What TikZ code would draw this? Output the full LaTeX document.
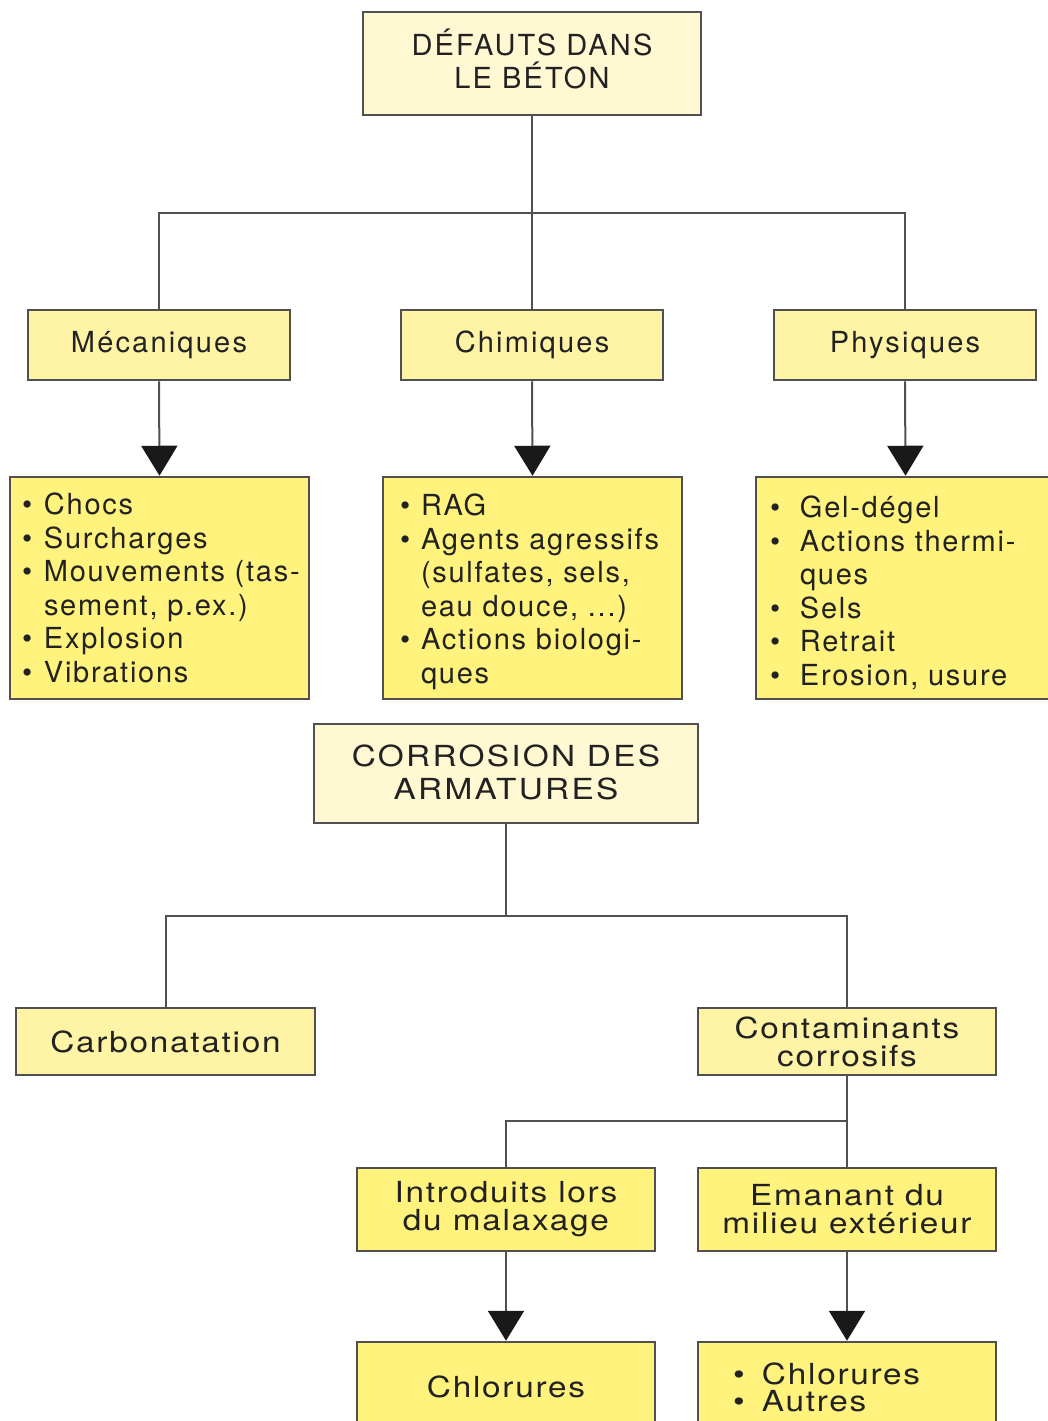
\documentclass[tikz,border=0pt]{standalone}
\usepackage{fontspec}
\setmainfont{TeX Gyre Heros}[LetterSpace=6]
\newfontfamily\hdrfont{TeX Gyre Heros}[LetterSpace=7.5]
\newfontfamily\widefont{TeX Gyre Heros}[FakeStretch=1.15, LetterSpace=6]
\newfontfamily\widerfont{TeX Gyre Heros}[FakeStretch=1.15, LetterSpace=8]
\usetikzlibrary{arrows.meta}
\definecolor{pale}{HTML}{FFF8D2}
\definecolor{mid}{HTML}{FFF4A6}
\definecolor{deep}{HTML}{FFF27D}
\definecolor{edge}{HTML}{505050}
\definecolor{ink}{HTML}{222222}
\newcommand\blt[2][22pt]{\mbox{\makebox[#1][l]{•}#2}}
\newcommand\ind[1][22pt]{\hspace*{#1}}
\begin{document}
\begin{tikzpicture}[x=1pt,y=-1pt,
  box/.style={draw=edge, line width=2.5pt, inner sep=0pt, text=ink,
    font=\hdrfont\fontsize{29}{33.5}\selectfont, align=center, rectangle},
  topbox/.style={box, fill=pale},
  midbox/.style={box, fill=mid},
  deepbox/.style={box, fill=deep},
  listbox/.style={deepbox, minimum width=299pt, minimum height=222pt, align=left,
    font=\rmfamily\fontsize{29}{33.5}\selectfont},
  lowbox/.style={font=\widefont\fontsize{29}{28}\selectfont},
  conn/.style={draw=edge, line width=2pt},
  arr/.style={conn, -{Triangle[width=36pt,length=30pt,color=black!90]}}
]
\useasboundingbox (0,0) rectangle (1048,1421);
\fill[white] (0,0) rectangle (1048,1421);

\node[topbox, minimum width=338pt, minimum height=103pt] (top) at (532,63.5) {DÉFAUTS DANS\\LE BÉTON\rule[-10pt]{0pt}{10pt}};
\node[midbox, minimum width=262pt, minimum height=70pt] (mec) at (159,345) {Mécaniques};
\node[midbox, minimum width=262pt, minimum height=70pt] (chim) at (532,345) {Chimiques};
\node[midbox, minimum width=262pt, minimum height=70pt] (phys) at (905,345) {Physiques};

\node[listbox, text width=275pt] (mecl) at (159.5,588)
 {\blt{Chocs}\\\blt{Surcharges}\\\blt{Mouvements (tas-}\\\ind sement, p.ex.)\\\blt{Explosion}\\\blt{Vibrations}};
\node[listbox, text width=265pt] (chiml) at (532.5,588)
 {\rule{0pt}{29pt}\blt[21pt]{RAG}\\\blt[21pt]{Agents agressifs}\\\ind[21pt](sulfates, sels,\\\ind[21pt]eau douce, ...)\\\blt[21pt]{Actions biologi-}\\\ind[21pt]ques};
\node[listbox, text width=271pt] (physl) at (905.5,588)
 {\rule{0pt}{31pt}\blt[30pt]{Gel-dégel}\\\blt[30pt]{Actions thermi-}\\\ind[30pt]ques\\\blt[30pt]{Sels}\\\blt[30pt]{Retrait}\\\blt[30pt]{Erosion, usure}};

\node[topbox, minimum width=384pt, minimum height=99pt, font=\widerfont\fontsize{29}{33.5}\selectfont] (corr) at (506,773.5) {CORROSION DES\\ARMATURES\rule[-3pt]{0pt}{3pt}};
\node[midbox, lowbox, minimum width=299pt, minimum height=67pt] (carb) at (165.5,1041.5) {Carbonatation};
\node[midbox, lowbox, minimum width=298pt, minimum height=67pt] (cont) at (847,1041.5) {Contaminants\\corrosifs};
\node[deepbox, lowbox, minimum width=298pt, minimum height=83pt] (intro) at (506,1209.5) {Introduits lors\\du malaxage};
\node[deepbox, lowbox, minimum width=298pt, minimum height=83pt] (eman) at (847,1209.5) {Emanant du\\milieu extérieur};
\node[deepbox, lowbox, minimum width=298pt, minimum height=90pt] (chl1) at (506,1387) {Chlorures};
\node[deepbox, minimum width=298pt, minimum height=90pt, text width=228pt, align=left, font=\widefont\fontsize{29}{27}\selectfont] (chl2) at (847,1387)
 {\blt[29pt]{Chlorures}\\\blt[29pt]{Autres}};

\coordinate (hub) at (532,213);
\coordinate (hubb) at (506,916);
\coordinate (hubc) at (847,1121);

\draw[conn] (top.south) -- (chim.north);
\draw[conn] (mec.north) |- (hub) -| (phys.north);
\draw[arr] (mec.south) -- (mecl.north);
\draw[arr] (chim.south) -- (chiml.north);
\draw[arr] (phys.south) -- (physl.north);

\draw[conn] (corr.south) -- (hubb);
\draw[conn] (carb.north) |- (hubb) -| (cont.north);
\draw[conn] (cont.south) -- (eman.north);
\draw[conn] (intro.north) |- (hubc);
\draw[arr] (intro.south) -- (chl1.north);
\draw[arr] (eman.south) -- (chl2.north);
\end{tikzpicture}
\end{document}
